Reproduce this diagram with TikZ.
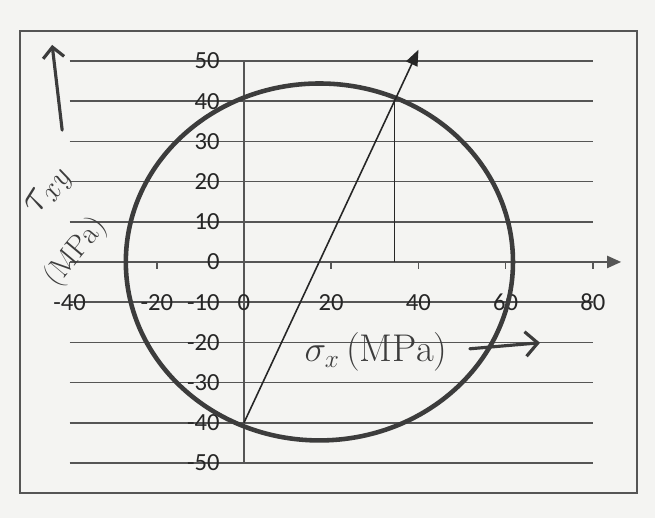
\documentclass[tikz,border=0pt]{standalone}
\usepackage{fontspec}
\newfontfamily\chartfont{Carlito}
\usetikzlibrary{arrows.meta,calc}
\definecolor{gridgray}{RGB}{85,85,85}
\definecolor{inkgray}{RGB}{60,60,60}
\definecolor{paper}{RGB}{244,244,242}

\begin{document}
\begin{tikzpicture}[x=0.0872cm, y=0.0804cm,
  gridline/.style={gridgray, line width=0.9pt},
  ticklabel/.style={font=\chartfont\fontsize{14}{16}\selectfont, text=black!85, inner sep=0pt},
  hand/.style={inkgray, line width=1.8pt, line cap=round}]
  % paper and chart frame
  \fill[paper] (-55.96,-63.68) rectangle (94.27,65.17);
  \draw[gridgray, line width=0.8pt] (-51.4,-57.5) rectangle (90.1,57.5);
  % grid
  \foreach \y in {-50,-40,...,50}
    \draw[gridline] (-40,\y) -- (80,\y);
  \draw[gridline] (0,-50) -- (0,50);
  \draw[gridline, -{Triangle[length=8pt,width=7pt]}] (0,0) -- (86.5,0);
  \foreach \x in {-40,-20,20,40,60,80}
    \draw[gridline] (\x,0) -- (\x,-1.8);
  % tick labels
  \foreach \y in {-50,-40,...,50}
    \node[ticklabel, anchor=east] (ylab\y) at (-5.5,\y) {\y};
  \foreach \x in {-40,-20,0,20,40,60,80}
    \node[ticklabel] (xlab\x) at (\x,-10) {\x};
  % Mohr circle
  \draw[inkgray, line width=2.6pt] (17.3,0) circle [radius=44.4];
  \coordinate (A) at (0,-40);
  \coordinate (P) at (34.5,40);
  \coordinate (Pfoot) at (34.5,0);
  \coordinate (tip) at ($(A)!1.16!(P)$);
  \draw[black!85, line width=0.9pt, -{Triangle[length=9pt,width=7pt]}] (A) -- (tip);
  \draw[black!85, line width=0.9pt] (P) -- (Pfoot);
  % hand written axis names
  \coordinate (tauStart) at (-41.7,32.8);
  \coordinate (tauEnd) at (-44,54);
  \draw[hand, -{Straight Barb[length=6pt]}] (tauStart) -- (tauEnd);
  \node[rotate=58, text=inkgray, font=\fontsize{24}{28}\selectfont, inner sep=0pt] (tauName) at (-44.5,17.5) {$\tau_{xy}$};
  \node[rotate=50, text=inkgray, font=\LARGE, inner sep=0pt] (tauUnit) at (-38.5,2.5) {(MPa)};
  \node[text=inkgray, font=\fontsize{22}{26}\selectfont] (sigLabel) at (30.3,-22.4) {$\sigma_x$\,(MPa)};
  \coordinate (sigStart) at (51.8,-21.6);
  \coordinate (sigEnd) at (67.9,-20.1);
  \draw[hand, -{Straight Barb[length=7pt]}] (sigStart) -- (sigEnd);
\end{tikzpicture}
\end{document}
